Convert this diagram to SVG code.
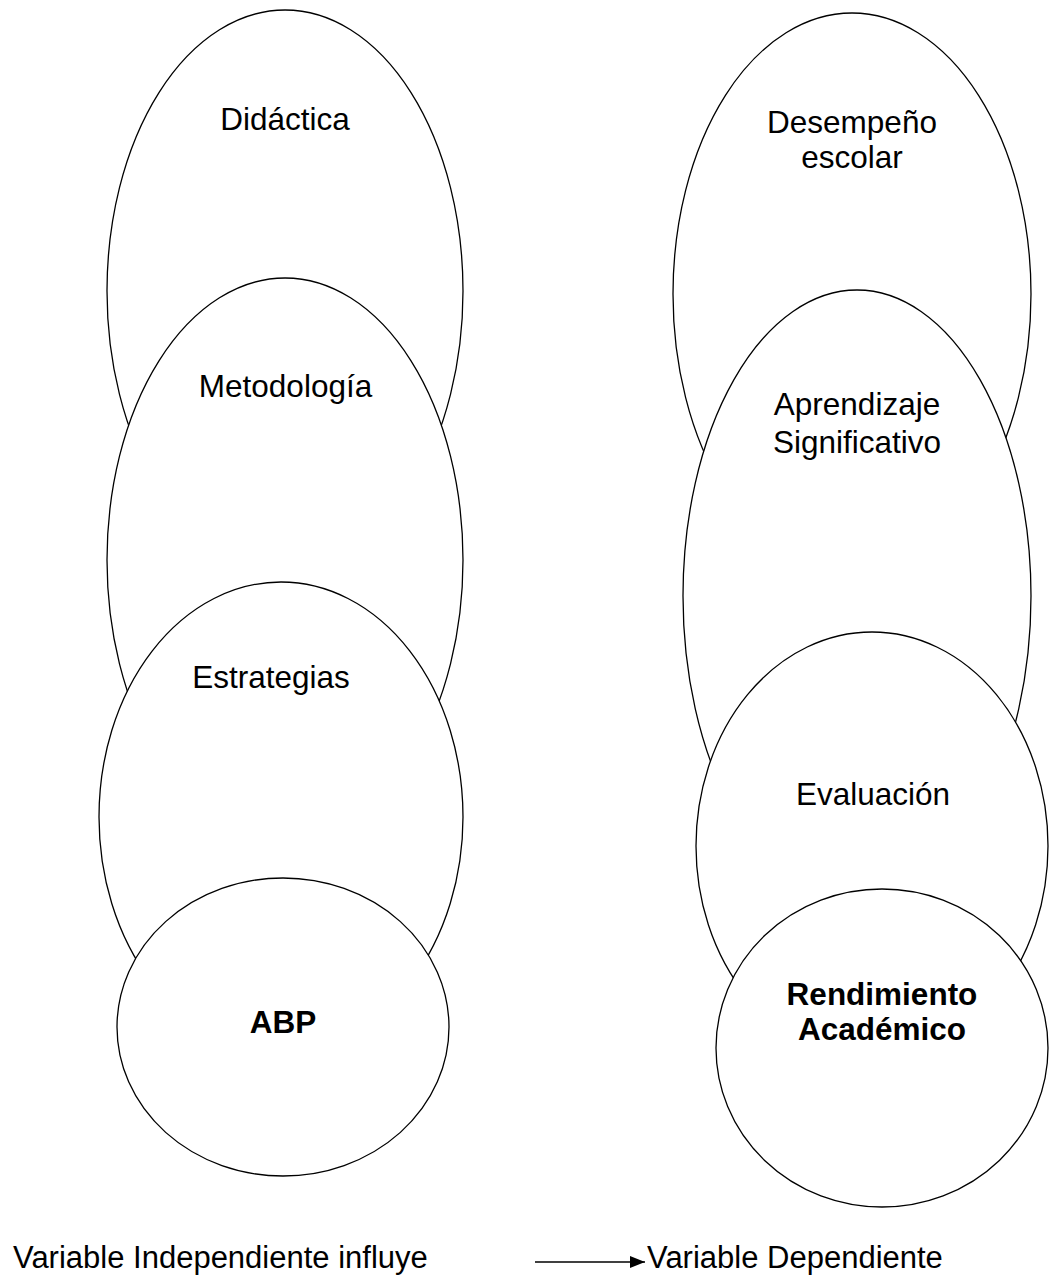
<svg xmlns="http://www.w3.org/2000/svg" width="1051" height="1278" viewBox="0 0 1051 1278">
  <style>
    .shape { fill: #ffffff; stroke: #000000; stroke-width: 1.3; }
    .lbl { font-family: "Liberation Sans", Arial, sans-serif; font-size: 31.5px; fill: #000000; text-anchor: middle; }
    .bold { font-weight: bold; }
    .foot { font-family: "Liberation Sans", Arial, sans-serif; font-size: 31px; fill: #000000; }
    .link { stroke: #000000; stroke-width: 1.5; fill: none; }
  </style>
  <defs>
    <marker id="arrowhead" markerWidth="15" markerHeight="12" refX="15" refY="6" orient="auto" markerUnits="userSpaceOnUse">
      <path d="M0,0 L15,6 L0,12 Z" fill="#000000"/>
    </marker>
  </defs>
  <rect width="1051" height="1278" fill="#ffffff"/>

  <!-- independent variable stack -->
  <g id="didactica">
    <ellipse class="shape" cx="285" cy="291" rx="178" ry="281"/>
    <text class="lbl" x="285" y="130">Didáctica</text>
  </g>
  <g id="metodologia">
    <ellipse class="shape" cx="285" cy="560" rx="178" ry="282"/>
    <text class="lbl" x="285.5" y="397">Metodología</text>
  </g>
  <g id="estrategias">
    <ellipse class="shape" cx="281" cy="817" rx="182" ry="235"/>
    <text class="lbl" x="271" y="688">Estrategias</text>
  </g>
  <g id="abp">
    <ellipse class="shape" cx="283" cy="1027" rx="166" ry="149"/>
    <text class="lbl bold" x="283" y="1033">ABP</text>
  </g>

  <!-- dependent variable stack -->
  <g id="desempeno">
    <ellipse class="shape" cx="852" cy="294" rx="179" ry="281"/>
    <text class="lbl" x="852" y="133">Desempeño</text>
    <text class="lbl" x="852" y="168">escolar</text>
  </g>
  <g id="aprendizaje">
    <ellipse class="shape" cx="857" cy="596" rx="174" ry="306"/>
    <text class="lbl" x="857" y="415">Aprendizaje</text>
    <text class="lbl" x="857" y="453">Significativo</text>
  </g>
  <g id="evaluacion">
    <ellipse class="shape" cx="872" cy="846" rx="176" ry="214"/>
    <text class="lbl" x="873" y="805">Evaluación</text>
  </g>
  <g id="rendimiento">
    <ellipse class="shape" cx="882" cy="1048" rx="166" ry="159"/>
    <text class="lbl bold" x="882" y="1005">Rendimiento</text>
    <text class="lbl bold" x="882" y="1040">Académico</text>
  </g>

  <!-- legend line -->
  <g id="legend-left">
    <text class="foot" x="13" y="1268">Variable Independiente influye</text>
  </g>
  <g id="legend-right">
    <text class="foot" x="647" y="1268">Variable Dependiente</text>
  </g>
  <g id="connectors">
    <line class="link" x1="535" y1="1262" x2="645" y2="1262" marker-end="url(#arrowhead)"/>
  </g>
</svg>
